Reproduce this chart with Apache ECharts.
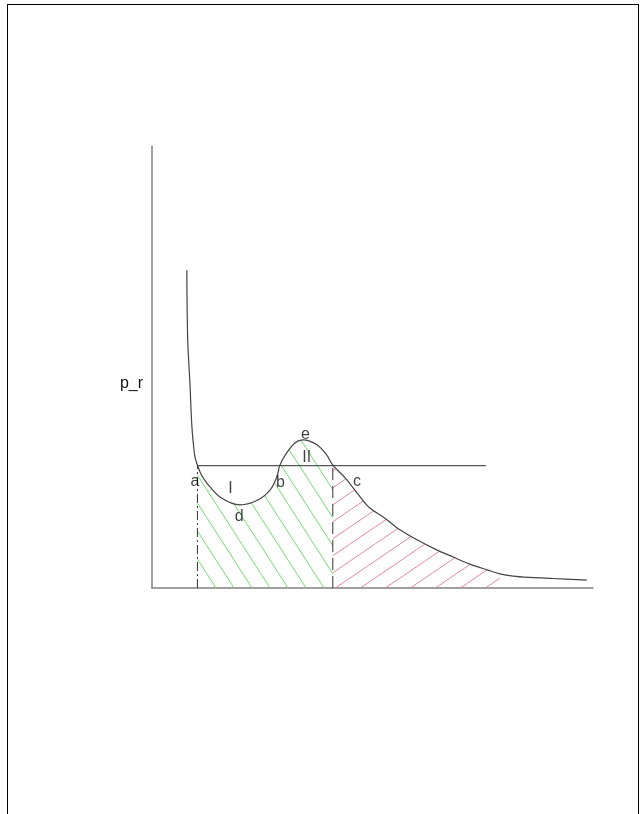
<!DOCTYPE html>
<html>
<head>
<meta charset="utf-8">
<script src="https://cdn.jsdelivr.net/npm/echarts@6/dist/echarts.min.js"></script>
<style>
  html, body { margin: 0; padding: 0; background: #fff; width: 641px; height: 814px; overflow: hidden; }
  #frame { position: absolute; left: 7px; top: 4px; width: 632px; height: 830px; border: 1px solid #000; box-sizing: border-box; }
  #chart { position: absolute; left: 0; top: 0; width: 641px; height: 814px; }
</style>
</head>
<body>
<div id="frame"></div>
<div id="chart"></div>
<script>
// Isotherm (reduced pressure vs. volume)
const curveX = [7.9, 8.1, 8.6, 9.0, 9.4, 9.75, 10.3, 11.1, 12.4, 15.4, 20.0, 24.0, 26.8, 28.3, 29.0, 30.5, 32.4, 34.2, 37.4, 39.6, 41.0, 43.8, 47.2, 49.4, 52.8, 55.6, 60.1, 64.2, 68.3, 72.1, 76.0, 78.9, 81.9, 85.7, 90.9, 98.6];
const curveY = [71.9, 56.1, 46.4, 37.3, 32.4, 29.6, 27.8, 25.8, 23.8, 20.6, 18.8, 19.9, 22.2, 25.1, 27.8, 30.5, 32.8, 33.5, 32.4, 30.1, 27.8, 24.9, 20.6, 18.1, 15.8, 13.6, 10.9, 8.8, 7.0, 5.4, 4.1, 3.2, 2.7, 2.4, 2.15, 1.8];
// Maxwell plateau
const plateauY = 27.7;
const plateauX = [10.3, 75.7];
// boundaries of hatched regions
const greenRange = [10.3, 41.0];
const redRange = [41.0, 78.9];
// point labels
const labelNames = ['a', 'I', 'd', 'b', 'e', 'II', 'c'];
const labelX = [9.75, 17.8, 19.8, 29.1, 34.8, 35.1, 46.5];
const labelY = [24.0, 22.4, 16.2, 23.8, 34.7, 29.4, 24.0];
// axis name and where it sits along the y axis
const yAxisName = 'p_r';
const yAxisNameAt = 46.3;

function hatch(w, h, color, dir) {
  const c = document.createElement('canvas');
  c.width = w; c.height = h;
  const ctx = c.getContext('2d');
  ctx.strokeStyle = color; ctx.lineWidth = 1;
  for (const off of [-w, 0, w]) {
    ctx.beginPath();
    if (dir > 0) { ctx.moveTo(off, 0); ctx.lineTo(off + w, h); }
    else { ctx.moveTo(off, h); ctx.lineTo(off + w, 0); }
    ctx.stroke();
  }
  return c;
}

const pts = curveX.map((x, i) => [x, curveY[i]]);
const greenPts = pts.filter(p => p[0] >= greenRange[0] && p[0] <= greenRange[1]);
const redPts = pts.filter(p => p[0] >= redRange[0] && p[0] <= redRange[1]);

const chart = echarts.init(document.getElementById('chart'), null, { renderer: 'canvas' });
const axisLine = { show: true, lineStyle: { color: '#808080', width: 1.5 } };
const font = "'Liberation Sans', Arial, sans-serif";
const sm = 0.35;
chart.setOption({
  backgroundColor: 'transparent',
  animation: false,
  grid: { left: 152, top: 146, width: 441, height: 442 },
  xAxis: { type: 'value', min: 0, max: 100, axisLine, axisTick: { show: false }, axisLabel: { show: false }, splitLine: { show: false } },
  yAxis: { type: 'value', min: 0, max: 100, axisLine, axisTick: { show: false }, axisLabel: { show: false }, splitLine: { show: false } },
  series: [
    { type: 'line', data: greenPts, smooth: sm, symbol: 'none', lineStyle: { width: 0 },
      areaStyle: { opacity: 1, color: { image: hatch(18, 28, '#72dc72', 1), repeat: 'repeat' } }, z: 1 },
    { type: 'line', data: redPts, smooth: sm, symbol: 'none', lineStyle: { width: 0 },
      areaStyle: { opacity: 1, color: { image: hatch(25, 17, '#e8889a', -1), repeat: 'repeat' } }, z: 1 },
    { type: 'line', data: [[greenRange[0], 0], [greenRange[0], plateauY]], symbol: 'none',
      lineStyle: { color: '#333', width: 1, type: [9, 3, 2, 3] }, z: 3 },
    { type: 'line', data: [[greenRange[1], 0], [greenRange[1], plateauY]], symbol: 'none',
      lineStyle: { color: '#333', width: 1, type: [12, 6] }, z: 3 },
    { type: 'line', data: plateauX.map(x => [x, plateauY]), symbol: 'none',
      lineStyle: { color: '#555', width: 1.2 }, z: 3 },
    { type: 'line', data: pts, smooth: sm, symbol: 'none',
      lineStyle: { color: '#444', width: 1.2 }, z: 4 },
    { type: 'scatter', symbolSize: 0, z: 5,
      data: labelNames.map((n, i) => ({ name: n, value: [labelX[i], labelY[i]] })),
      label: { show: true, position: 'inside', formatter: '{b}', fontFamily: font, fontSize: 16, color: '#111' } }
  ]
});
// y-axis name placed left of the axis line, at a value along the axis
const namePos = chart.convertToPixel({ gridIndex: 0 }, [0, yAxisNameAt]);
chart.setOption({
  graphic: [{
    type: 'text', x: namePos[0] - 9, y: namePos[1],
    style: { text: yAxisName, fontFamily: font, fontSize: 16, fill: '#111', align: 'right', verticalAlign: 'middle' }
  }]
});
</script>
</body>
</html>
